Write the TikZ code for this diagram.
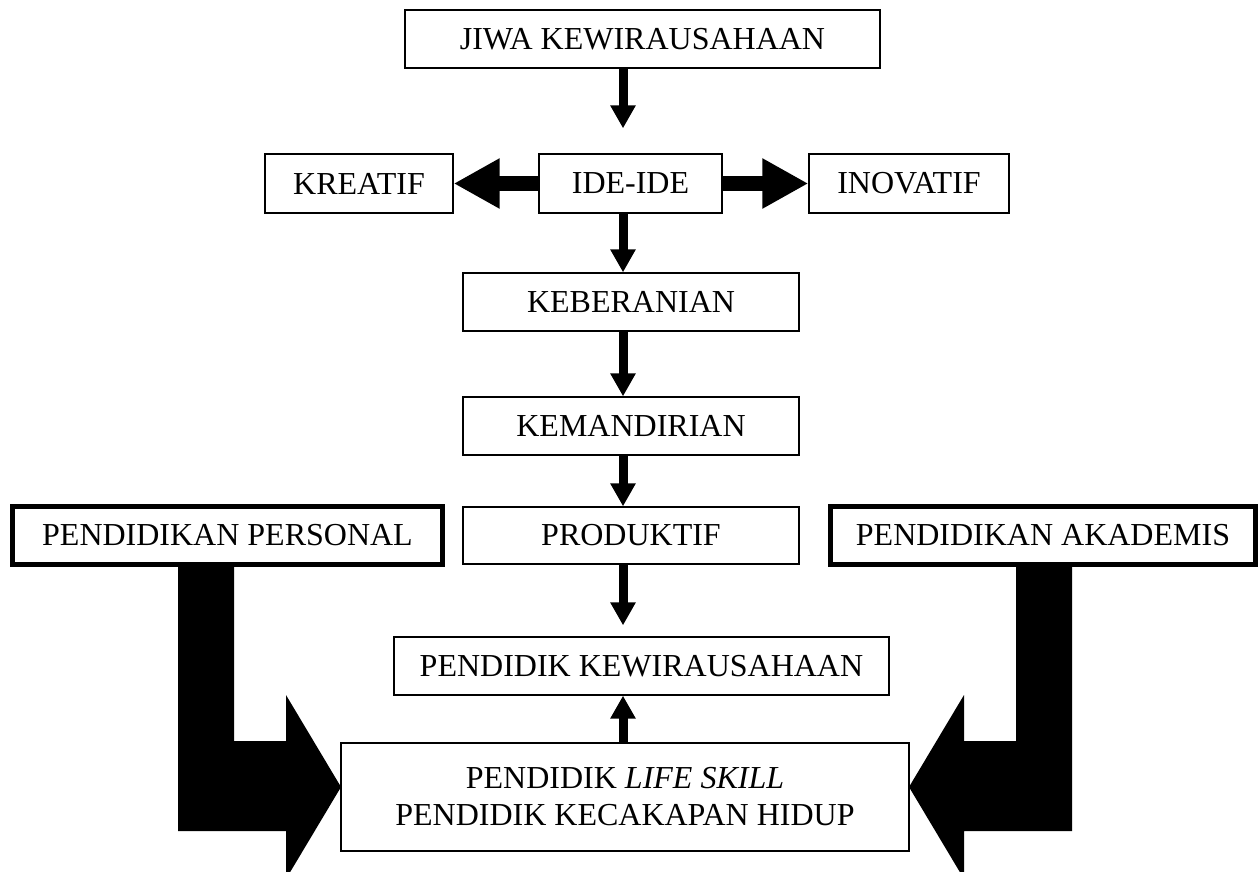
\documentclass[tikz,border=0pt]{standalone}
\usepackage{fontspec}
\setmainfont{Liberation Serif}
\usetikzlibrary{arrows.meta}
\tikzset{
  kotak/.style={draw,line width=1.3pt,inner sep=0pt,minimum height=58pt,font=\fontsize{32}{37}\selectfont},
  kotaktebal/.style={kotak,line width=5pt},
  panah/.style={line width=9pt,-{Triangle[length=23pt,width=24pt]}},
  panahlebar/.style={line width=15pt,-{Triangle[length=46pt,width=47pt]}}
}
\begin{document}
\begin{tikzpicture}[x=1pt,y=-1pt]
			\useasboundingbox(0,0)rectangle(1259,872);
			\coordinate(poros)at(623,0);
			\node[kotak,minimum width=475pt](jiwa)at(642.5,39){JIWA KEWIRAUSAHAAN};
			\node[kotak,minimum width=183pt,minimum height=59pt](ide)at(630.5,183.5){IDE-IDE};
			\node[kotak,minimum width=188pt,minimum height=59pt](kreatif)at(359,183.5){KREATIF};
			\node[kotak,minimum width=200pt,minimum height=59pt](inovatif)at(909,183.5){INOVATIF};
			\node[kotak,minimum width=336pt](berani)at(631,302){KEBERANIAN};
			\node[kotak,minimum width=336pt](mandiri)at(631,426){KEMANDIRIAN};
			\node[kotak,minimum width=336pt,minimum height=57pt](produktif)at(631,535.5){PRODUKTIF};
			\node[kotaktebal,minimum width=430pt](personal)at(227.5,535.5){PENDIDIKAN PERSONAL};
			\node[kotaktebal,minimum width=425pt](akademis)at(1043,535.5){PENDIDIKAN AKADEMIS};
			\node[kotak,minimum width=495pt](pkwu)at(641.5,666){PENDIDIK KEWIRAUSAHAAN};
			\node[kotak,minimum width=568pt,minimum height=108pt,align=center](lifeskill)at(625,797){PENDIDIK \textit{LIFE SKILL}\\PENDIDIK KECAKAPAN HIDUP};
			% alur tengah
			\draw[panah,shorten >=25pt](jiwa.south -| poros)--(ide.north -| poros);
			\draw[panah](ide.south -| poros)--(berani.north -| poros);
			\draw[panah](berani.south -| poros)--(mandiri.north -| poros);
			\draw[panah](mandiri.south -| poros)--(produktif.north -| poros);
			\draw[panah,shorten >=11pt](produktif.south -| poros)--(pkwu.north -| poros);
			\draw[panah](lifeskill.north -| poros)--(pkwu.south -| poros);
			\draw[panahlebar](ide.west)--(kreatif.east);
			\draw[panahlebar](ide.east)--(inovatif.west);
			% panah siku
			\fill(178,567)--(234,567)--(234,741)--(286,741)--(286,695)--(341,787)--(286,879)--(286,831)--(178,831)--cycle;
			\fill(1016,567)--(1072,567)--(1072,831)--(964,831)--(964,879)--(909,787)--(964,695)--(964,741)--(1016,741)--cycle;
			\end{tikzpicture}
\end{document}
